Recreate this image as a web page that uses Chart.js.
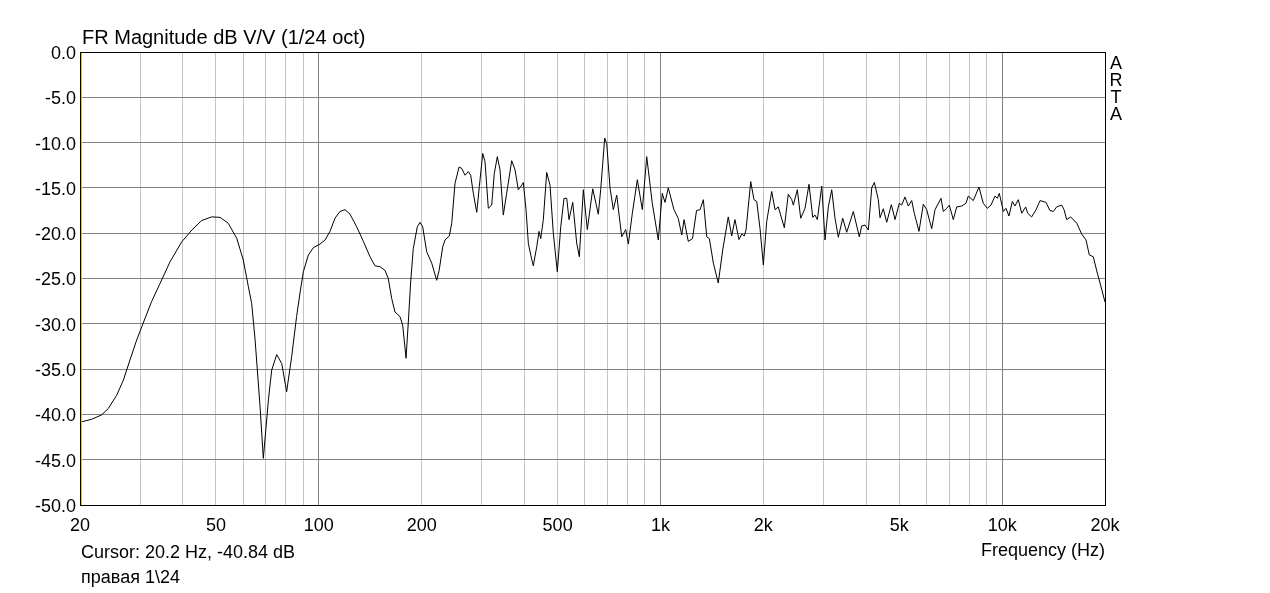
<!DOCTYPE html>
<html>
<head>
<meta charset="utf-8">
<script src="https://cdn.jsdelivr.net/npm/chart.js"></script>
<style>
  html, body { margin: 0; padding: 0; background: #fff; }
  #wrap { width: 1270px; height: 593px; position: relative; }
</style>
</head>
<body>
<div id="wrap"><canvas id="c" width="1270" height="593"></canvas></div>
<script>
// ---- data ----
const freqHz = [20.0,21.6,23.1,24.2,25.6,26.8,28.0,29.3,30.6,32.4,34.3,36.7,39.7,42.5,45.4,48.6,51.4,54.3,57.5,60.1,62.2,63.6,65.1,67.3,68.8,71.2,72.8,75.3,77.9,80.5,83.3,86.1,88.1,90.1,93.2,96.4,100.8,104.3,107.8,111.5,115.3,119.3,123.4,129.1,135.0,141.2,146.0,151.1,156.2,159.7,163.4,167.1,172.8,176.0,180.0,182.8,185.7,189.0,194.2,197.8,201.4,206.9,214.0,221.3,225.0,230.5,234.1,241.0,244.9,250.4,257.3,262.0,267.9,273.9,278.3,283.3,289.9,295.0,301.8,306.5,313.4,320.6,326.3,333.0,339.1,346.7,354.7,366.9,375.2,383.6,392.6,396.8,404.1,410.4,417.1,424.4,434.3,441.1,446.2,454.1,464.5,475.0,485.7,498.9,510.6,522.0,531.6,539.9,553.6,568.6,578.7,594.6,610.8,633.4,657.7,668.4,686.7,696.1,711.7,727.8,744.7,770.1,791.2,805.2,827.2,855.5,884.9,911.4,946.3,985.4,1012,1031,1054,1095,1127,1154,1172,1206,1241,1275,1306,1335,1366,1390,1428,1476,1521,1579,1616,1652,1697,1729,1759,1780,1837,1878,1913,1956,2000,2046,2116,2164,2212,2304,2366,2422,2448,2515,2573,2649,2721,2790,2834,2878,2965,3031,3099,3171,3242,3315,3415,3508,3668,3819,3881,3969,4058,4152,4226,4341,4391,4489,4594,4739,4858,5000,5081,5195,5313,5436,5532,5710,5878,6014,6221,6361,6623,6726,6883,7004,7195,7362,7614,7838,7960,8233,8554,8806,9047,9277,9530,9680,9810,10080,10260,10470,10710,10900,11150,11410,11720,11880,12200,12570,12910,13440,13800,14120,14440,14940,15170,15450,15870,16530,17100,17600,17990,18480,18990,19340,20000];
const magDb = [-40.86,-40.55,-40.07,-39.35,-37.9,-36.2,-34.0,-31.8,-29.95,-27.55,-25.55,-23.15,-20.95,-19.65,-18.6,-18.2,-18.25,-18.9,-20.55,-22.95,-25.9,-27.75,-31.8,-39.15,-44.85,-38.4,-35.1,-33.4,-34.4,-37.5,-33.6,-29.2,-26.6,-24.25,-22.4,-21.6,-21.2,-20.75,-19.8,-18.35,-17.6,-17.4,-17.9,-19.3,-20.9,-22.6,-23.6,-23.7,-24.1,-25.0,-27.2,-28.7,-29.2,-30.15,-33.8,-29.8,-25.4,-21.7,-19.3,-18.8,-19.3,-22.05,-23.3,-25.2,-24.1,-21.5,-20.75,-20.3,-18.9,-14.5,-12.7,-12.85,-13.6,-13.2,-13.6,-15.6,-17.7,-14.85,-11.2,-12.1,-17.25,-16.9,-13.4,-11.55,-13.0,-18.0,-15.6,-12.0,-13.0,-15.2,-14.7,-14.4,-17.4,-21.1,-22.4,-23.6,-21.5,-19.8,-20.6,-18.5,-13.3,-14.7,-20.0,-24.25,-19.3,-16.15,-16.15,-18.5,-16.6,-21.1,-22.6,-15.2,-19.6,-15.1,-17.9,-15.2,-9.5,-10.1,-15.0,-17.4,-15.8,-20.4,-19.6,-21.2,-17.8,-14.1,-17.4,-11.55,-16.7,-20.75,-15.6,-16.6,-15.0,-17.4,-18.35,-20.2,-18.5,-20.9,-20.6,-17.5,-17.4,-16.3,-20.4,-20.6,-23.3,-25.5,-21.85,-18.2,-20.3,-18.5,-20.7,-20.1,-20.3,-19.65,-14.3,-16.3,-16.5,-19.5,-23.5,-18.7,-15.4,-17.4,-17.1,-19.4,-15.7,-16.3,-16.9,-15.2,-18.35,-17.25,-14.6,-18.25,-18.0,-18.5,-14.8,-20.75,-17.1,-15.2,-18.35,-20.45,-18.35,-19.9,-17.6,-20.4,-19.2,-19.1,-19.65,-15.0,-14.4,-16.3,-18.3,-17.3,-18.8,-16.85,-18.5,-16.7,-16.9,-16.0,-17.0,-16.4,-17.8,-19.8,-16.8,-17.4,-19.5,-17.4,-16.15,-17.6,-17.25,-16.9,-18.5,-17.1,-17.0,-16.7,-15.9,-16.4,-14.9,-16.7,-17.25,-16.9,-15.9,-16.15,-15.6,-17.6,-17.25,-18.1,-16.5,-17.0,-16.3,-17.8,-17.1,-17.8,-18.2,-17.4,-16.4,-16.6,-17.5,-17.6,-17.1,-16.9,-17.4,-18.5,-18.2,-18.9,-20.1,-20.75,-22.4,-22.6,-24.4,-25.5,-27.6];
const gridFreqs = [20,30,40,50,60,70,80,90,100,200,300,400,500,600,700,800,900,1000,2000,3000,4000,5000,6000,7000,8000,9000,10000,20000];
const xTickLabels = {20:'20',50:'50',100:'100',200:'200',500:'500',1000:'1k',2000:'2k',5000:'5k',10000:'10k',20000:'20k'};
const decadeLines = [100,1000,10000];
const yMin = -50, yMax = 0, yStep = 5;
const cursorHz = 20.2;
const titleText = 'FR Magnitude dB V/V (1/24 oct)';
const cursorText = 'Cursor: 20.2 Hz, -40.84 dB';
const traceName = 'правая 1\\24';
const xAxisTitle = 'Frequency (Hz)';
const brandLetters = ['A','R','T','A'];

const FONT = '"Liberation Sans", Arial, sans-serif';

const framePlugin = {
  id: 'frameAndText',
  afterDraw(chart) {
    const ctx = chart.ctx, a = chart.chartArea;
    ctx.save();
    ctx.strokeStyle = '#000';
    ctx.lineWidth = 1;
    ctx.strokeRect(Math.round(a.left) + 0.5, Math.round(a.top) + 0.5,
                   Math.round(a.right - a.left), Math.round(a.bottom - a.top));
    ctx.fillStyle = '#000';
    ctx.textBaseline = 'alphabetic';
    ctx.font = '20px ' + FONT;
    ctx.textAlign = 'left';
    ctx.fillText(titleText, a.left + 2, a.top - 8);
    ctx.font = '18px ' + FONT;
    ctx.fillText(cursorText, a.left + 1, a.bottom + 53);
    ctx.fillText(traceName, a.left + 1, a.bottom + 78);
    ctx.textAlign = 'right';
    ctx.fillText(xAxisTitle, a.right, a.bottom + 51);
    ctx.textAlign = 'center';
    brandLetters.forEach((ch, i) => ctx.fillText(ch, a.right + 11, a.top + 17 + i * 17));
    ctx.restore();
  }
};

new Chart(document.getElementById('c'), {
  type: 'scatter',
  data: {
    datasets: [
      {
        label: 'cursor',
        data: [{x: cursorHz, y: yMin}, {x: cursorHz, y: yMax}],
        showLine: true, borderColor: '#d8c800', borderWidth: 1, pointRadius: 0
      },
      {
        label: traceName,
        data: freqHz.map((f, i) => ({x: f, y: magDb[i]})),
        showLine: true, borderColor: '#000', borderWidth: 1, pointRadius: 0,
        tension: 0, fill: false
      }
    ]
  },
  options: {
    responsive: false,
    animation: false,
    events: [],
    layout: { padding: { left: 0, right: 165, top: 52, bottom: 58 } },
    plugins: { legend: { display: false }, title: { display: false }, tooltip: { enabled: false } },
    scales: {
      x: {
        type: 'logarithmic', min: 20, max: 20000,
        afterBuildTicks: (s) => { s.ticks = gridFreqs.map(v => ({ value: v })); },
        afterFit: (s) => { s.height = 30; },
        ticks: {
          autoSkip: false, maxRotation: 0, minRotation: 0, padding: 10,
          color: '#000', font: { family: FONT, size: 18 },
          callback: (v) => xTickLabels[v] || ''
        },
        grid: {
          drawTicks: false,
          color: (c) => (c.tick && decadeLines.includes(c.tick.value)) ? '#808080' : '#c4c4c4',
          lineWidth: 1
        },
        border: { display: true, color: '#000', width: 1 }
      },
      y: {
        type: 'linear', min: yMin, max: yMax,
        afterFit: (s) => { s.width = 80; },
        ticks: {
          stepSize: yStep, padding: 4, labelOffset: 2, color: '#000',
          font: { family: FONT, size: 18 },
          callback: (v) => Number(v).toFixed(1)
        },
        grid: { drawTicks: false, color: '#808080', lineWidth: 1 },
        border: { display: true, color: '#000', width: 1 }
      }
    }
  },
  plugins: [framePlugin]
});
</script>
</body>
</html>
